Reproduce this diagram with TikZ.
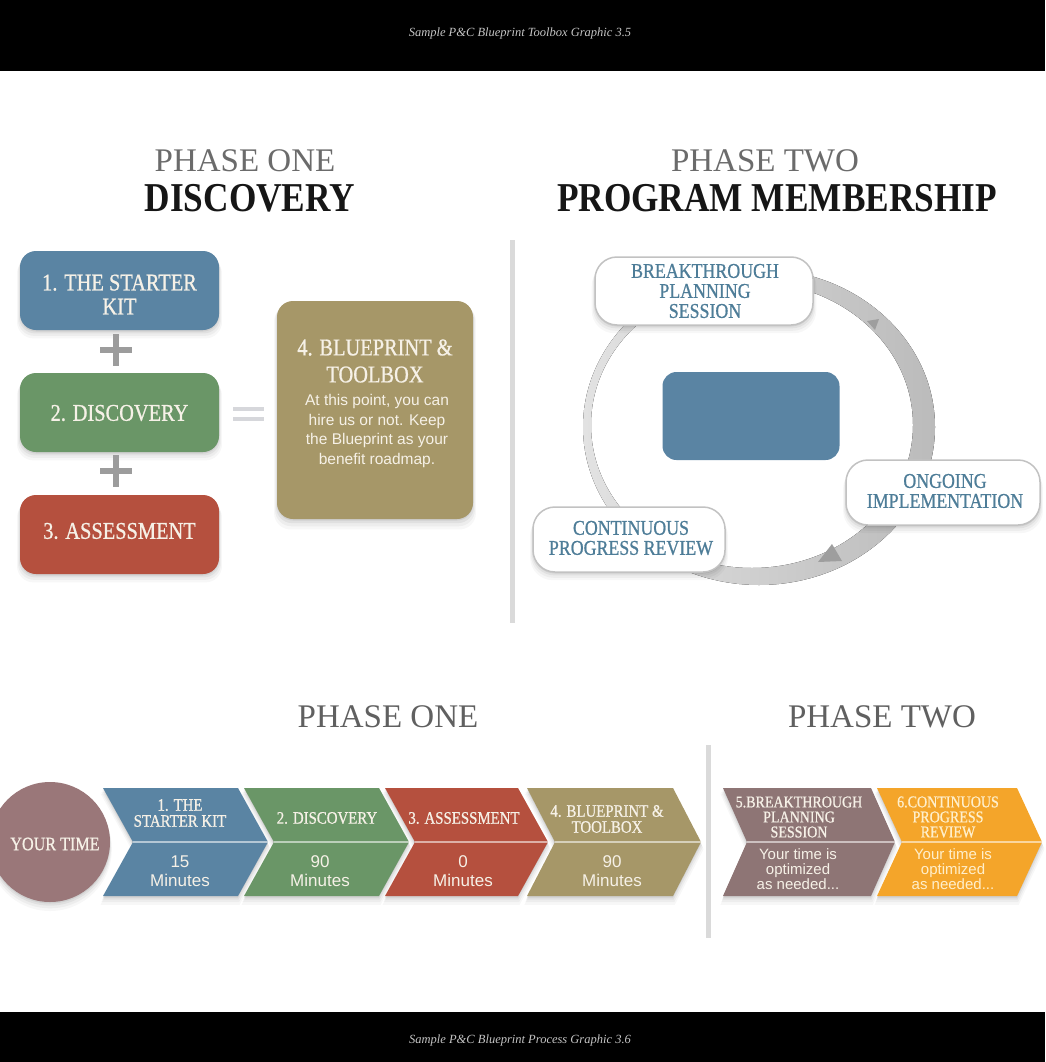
\documentclass[tikz,border=0pt]{standalone}
\usepackage{fontspec}
\setmainfont{Liberation Serif}
\newfontfamily\capsfont[FakeStretch=0.85,FakeBold=0.8]{Liberation Serif}
\newfontfamily\namefont[FakeStretch=0.86]{Liberation Serif}
\newfontfamily\headfont{Liberation Serif}
\newfontfamily\bodysans{Liberation Sans}
\usetikzlibrary{shadows}

\definecolor{captiongray}{HTML}{C4C4C4}
\definecolor{headgray}{HTML}{6B6B6B}
\definecolor{headdark}{HTML}{161616}
\definecolor{stepblue}{HTML}{5A84A3}
\definecolor{stepgreen}{HTML}{6A9667}
\definecolor{stepred}{HTML}{B5503E}
\definecolor{steptan}{HTML}{A69768}
\definecolor{stepmauve}{HTML}{8E7575}
\definecolor{timemauve}{HTML}{9A7779}
\definecolor{steporange}{HTML}{F4A52A}
\definecolor{cream}{HTML}{F6F1E7}
\definecolor{paleorange}{HTML}{FFEFCB}
\definecolor{cycletext}{HTML}{4E7D98}
\definecolor{rulegray}{HTML}{DADADA}
\definecolor{opgray}{HTML}{9C9C9C}
\definecolor{eqgray}{HTML}{D6D7DB}
\definecolor{ringlight}{HTML}{E2E2E2}
\definecolor{ringdark}{HTML}{BBBBBB}
\definecolor{boxedge}{HTML}{C2C2C2}
\definecolor{tipgray}{HTML}{9E9E9E}

\begin{document}
\begin{tikzpicture}[x=1pt,y=-1pt,
  softshadow/.style={
    general shadow={shadow yshift=-1.5pt, fill=black, opacity=0.07},
    general shadow={shadow yshift=-3pt, shadow scale=1.01, fill=black, opacity=0.05},
    general shadow={shadow yshift=-5pt, shadow scale=1.02, fill=black, opacity=0.04},
    general shadow={shadow yshift=-7pt, shadow scale=1.03, fill=black, opacity=0.03}},
  stepbox/.style={rounded corners=16pt, inner sep=0pt, minimum width=199pt,
    minimum height=79pt, softshadow},
  cyclebox/.style={rounded corners=22pt, inner sep=0pt, draw=boxedge,
    line width=1.5pt, fill=white, softshadow},
  boxlabel/.style={text=cream, font=\capsfont\fontsize{24}{24}\selectfont,
    align=center, inner sep=0pt},
  bodytext/.style={text=cream, font=\bodysans\fontsize{15.5}{19.6}\selectfont,
    align=center, inner sep=0pt},
  cyclelabel/.style={text=cycletext, font=\capsfont\fontsize{21}{20}\selectfont,
    align=center, inner sep=0pt},
  phasehead/.style={text=headgray, font=\headfont\fontsize{33}{33}\selectfont, inner sep=0pt},
  phasename/.style={text=headdark, font=\namefont\bfseries\fontsize{41}{41}\selectfont, inner sep=0pt},
  caption/.style={text=captiongray, font=\itshape\fontsize{12.5}{12.5}\selectfont, inner sep=0pt},
  opline/.style={draw=opgray, line width=6pt},
  eqline/.style={draw=eqgray, line width=3.5pt},
  divider/.style={draw=rulegray, line width=5pt},
  chevtitle/.style={text=cream, font=\capsfont\fontsize{17.5}{16}\selectfont,
    align=center, inner sep=0pt},
  chevtime/.style={text=cream, font=\bodysans\fontsize{17}{19}\selectfont,
    align=center, inner sep=0pt},
  chevnote/.style={text=cream, font=\bodysans\fontsize{15}{15}\selectfont,
    align=center, inner sep=0pt},
  midline/.style={draw=white, opacity=0.55, line width=1.2pt},
  pics/chevron/.style n args={3}{code={
    \fill[#3, softshadow] (0,0) -- (#1,0) -- (#1+#2,54) -- (#1,108) -- (0,108)
      -- (#2,54) -- cycle;
    \draw[midline] (#2,54) -- (#1+#2,54);
  }}
]
\useasboundingbox (0,0) rectangle (1045,1062);
\fill[white] (0,0) rectangle (1045,1062);

% caption bars
\fill[black] (0,0) rectangle (1045,71);
\fill[black] (0,1012) rectangle (1045,1062);
\node[caption] (captop) at (520,33) {Sample P\&C Blueprint Toolbox Graphic 3.5};
\node[caption] (capbot) at (520,1040) {Sample P\&C Blueprint Process Graphic 3.6};

% ---------- upper graphic ----------
\node[phasehead] (h1) at (245,161) {PHASE ONE};
\node[phasename] (n1) at (250,198) {DISCOVERY};
\node[phasehead] (h2) at (765,161) {PHASE TWO};
\node[phasename] (n2) at (777,198) {PROGRAM MEMBERSHIP};

% phase one building blocks
\node[stepbox, fill=stepblue]  (kit)    at (119.5,290.5) {};
\node[stepbox, fill=stepgreen] (disc)   at (119.5,412.5) {};
\node[stepbox, fill=stepred]   (assess) at (119.5,534.5) {};
\node[stepbox, fill=steptan, minimum width=196pt, minimum height=218pt] (blue) at (375,410) {};

\node[boxlabel] (kitlabel)    at (119.5,294.5) {1. THE STARTER\\KIT};
\node[boxlabel] (disclabel)   at (119.5,413) {2. DISCOVERY};
\node[boxlabel] (assesslabel) at (119.5,531) {3. ASSESSMENT};
\node[boxlabel, font=\capsfont\fontsize{24}{27}\selectfont] (bluelabel) at (375,361)
  {4. BLUEPRINT \&\\TOOLBOX};
\node[bodytext] (bluebody) at (377,431)
  {At this point, you can\\hire us or not. Keep\\the Blueprint as your\\benefit roadmap.};

% plus and equals signs
\draw[opline] (100,350) -- (132,350) (116,334) -- (116,366);
\draw[opline] (100,471) -- (132,471) (116,455) -- (116,487);
\draw[eqline] (233,409) -- (264,409) (233,419) -- (264,419);

% vertical rule between the phases
\draw[divider] (512,240) -- (512,623);

% phase two cycle
\fill[even odd rule, left color=ringlight, right color=ringdark]
  (759,427) ellipse [x radius=176, y radius=158]
  (752,425) ellipse [x radius=161, y radius=143];
\fill[tipgray] (867,321) -- (879,319) -- (875,330) -- cycle;
\fill[tipgray] (818,562) -- (842,561) -- (832,544) -- cycle;

\node[rounded corners=14pt, fill=stepblue, minimum width=177pt, minimum height=88pt,
  inner sep=0pt] (hub) at (751,416) {};

\node[cyclebox, minimum width=218pt, minimum height=68pt] (bps) at (704,291) {};
\node[cyclebox, minimum width=194pt, minimum height=65pt] (ongo) at (943,492.5) {};
\node[cyclebox, minimum width=192pt, minimum height=65pt] (cpr) at (629,539.5) {};

\node[cyclelabel] (bpslabel)  at (705,291) {BREAKTHROUGH\\PLANNING\\SESSION};
\node[cyclelabel] (ongolabel) at (945,491) {ONGOING\\IMPLEMENTATION};
\node[cyclelabel] (cprlabel)  at (631,538) {CONTINUOUS\\PROGRESS REVIEW};

% ---------- lower graphic ----------
\node[phasehead, text=headgray!90!black] (h3) at (388,717) {PHASE ONE};
\node[phasehead, text=headgray!90!black] (h4) at (882,717) {PHASE TWO};

\draw[divider] (708,745) -- (708,938);

\node[circle, fill=timemauve, minimum size=120pt, inner sep=0pt, softshadow] (time) at (50,842) {};
\node[chevtitle, font=\capsfont\fontsize{19}{19}\selectfont] (timelabel) at (55,844) {YOUR TIME};

\pic at (103,788) {chevron={135}{30}{stepblue}};
\pic at (244,788) {chevron={135}{30}{stepgreen}};
\pic at (385,788) {chevron={133}{30}{stepred}};
\pic at (527,788) {chevron={146}{28}{steptan}};
\pic at (723,788) {chevron={148}{24}{stepmauve}};
\pic at (877,788) {chevron={140}{25}{steporange}};

\node[chevtitle] (c1t) at (180,813) {1. THE\\STARTER KIT};
\node[chevtitle] (c2t) at (327,818) {2. DISCOVERY};
\node[chevtitle] (c3t) at (464,818) {3. ASSESSMENT};
\node[chevtitle] (c4t) at (607,819) {4. BLUEPRINT \&\\TOOLBOX};
\node[chevtitle, font=\capsfont\fontsize{16.5}{15}\selectfont] (c5t) at (799,817)
  {5.BREAKTHROUGH\\PLANNING\\SESSION};
\node[chevtitle, font=\capsfont\fontsize{16.5}{15}\selectfont, text=paleorange] (c6t) at (948,817)
  {6.CONTINUOUS\\PROGRESS\\REVIEW};

\node[chevtime] (c1b) at (180,871) {15\\Minutes};
\node[chevtime] (c2b) at (320,871) {90\\Minutes};
\node[chevtime] (c3b) at (463,871) {0\\Minutes};
\node[chevtime] (c4b) at (612,871) {90\\Minutes};
\node[chevnote] (c5b) at (798,869) {Your time is\\optimized\\as needed...};
\node[chevnote, text=paleorange] (c6b) at (953,869) {Your time is\\optimized\\as needed...};
\end{tikzpicture}
\end{document}
